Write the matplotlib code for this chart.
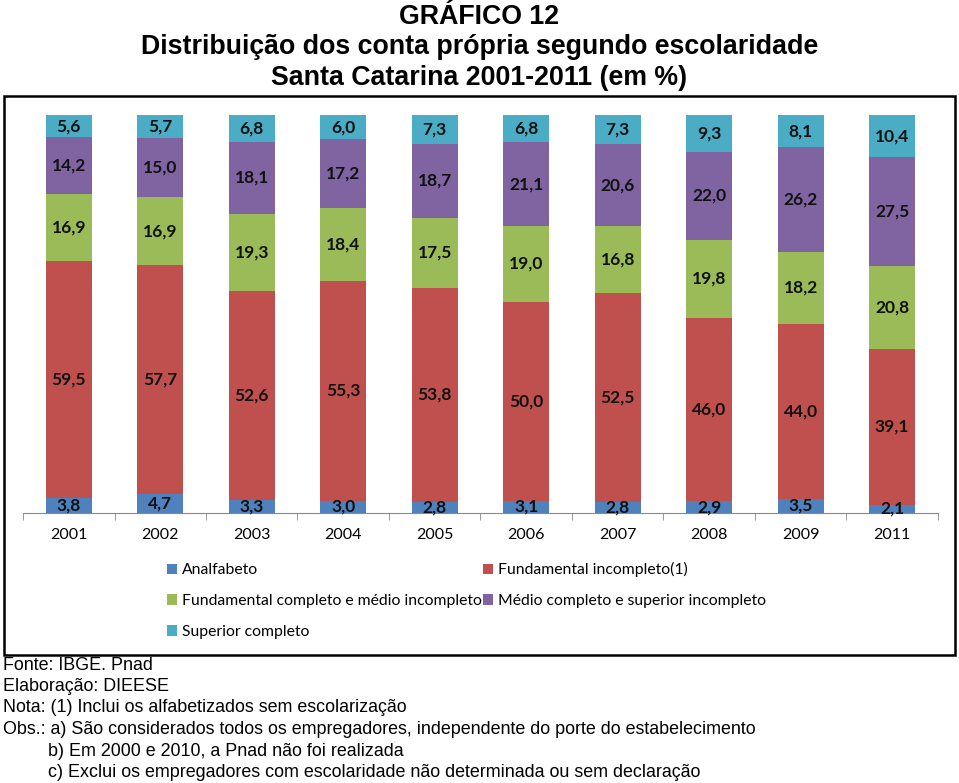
import matplotlib.pyplot as plt
import numpy as np
from matplotlib.patches import Rectangle

anos = ['2001', '2002', '2003', '2004', '2005', '2006', '2007', '2008', '2009', '2011']
analfabeto = [3.8, 4.7, 3.3, 3.0, 2.8, 3.1, 2.8, 2.9, 3.5, 2.1]
fund_incompleto = [59.5, 57.7, 52.6, 55.3, 53.8, 50.0, 52.5, 46.0, 44.0, 39.1]
fund_completo = [16.9, 16.9, 19.3, 18.4, 17.5, 19.0, 16.8, 19.8, 18.2, 20.8]
medio_completo = [14.2, 15.0, 18.1, 17.2, 18.7, 21.1, 20.6, 22.0, 26.2, 27.5]
superior = [5.6, 5.7, 6.8, 6.0, 7.3, 6.8, 7.3, 9.3, 8.1, 10.4]

series = [analfabeto, fund_incompleto, fund_completo, medio_completo, superior]
nomes = ['Analfabeto', 'Fundamental incompleto(1)',
         'Fundamental completo e médio incompleto',
         'Médio completo e superior incompleto', 'Superior completo']
cores = ['#4F81BD', '#C0504D', '#9BBB59', '#8064A2', '#4BACC6']

fig = plt.figure(figsize=(9.59, 7.83), dpi=100)
ax = fig.add_axes([0.024, 0.345, 0.954, 0.508])

x = np.arange(len(anos))
base = np.zeros(len(anos))
barras = []
for vals, cor, nome in zip(series, cores, nomes):
    vals = np.array(vals)
    b = ax.bar(x, vals, 0.5, bottom=base, color=cor, label=nome)
    barras.append(b)
    for xi, v, b0 in zip(x, vals, base):
        ax.text(xi, b0 + v / 2, f'{v:.1f}'.replace('.', ','), ha='center', va='center',
                fontsize=12.5, fontweight='bold', family='Lato', color='#111111')
    base = base + vals

ax.set_xlim(-0.5, len(anos) - 0.5)
ax.set_ylim(0, 100)
ax.set_yticks([])
for s in ['top', 'right', 'left']:
    ax.spines[s].set_visible(False)
ax.spines['bottom'].set_color('#888888')
ax.set_xticks(x)
ax.set_xticklabels(anos, family='Lato', fontsize=11.5)
ax.tick_params(axis='x', which='major', length=0, pad=11)
ax.set_xticks(np.arange(-0.5, len(anos)), minor=True)
ax.tick_params(axis='x', which='minor', length=5, color='#888888')

h = [barras[0], barras[2], barras[4], barras[1], barras[3]]
l = [nomes[0], nomes[2], nomes[4], nomes[1], nomes[3]]
fig.legend(h, l, ncol=2, loc='upper left', bbox_to_anchor=(0.159, 0.3),
           frameon=False, prop={'family': 'Lato', 'size': 11.3},
           handlelength=0.65, handleheight=0.65, handletextpad=0.3,
           columnspacing=0.1, labelspacing=1.07)

fig.patches.append(Rectangle((0.004, 1 - 655 / 783), 0.992, (655 - 96) / 783,
                             transform=fig.transFigure, fill=False,
                             edgecolor='black', linewidth=1.8))

for yy, t in [(17, 'GRÁFICO 12'),
              (47, 'Distribuição dos conta própria segundo escolaridade'),
              (78, 'Santa Catarina 2001-2011 (em %)')]:
    fig.text(0.5, 1 - yy / 783, t, ha='center', va='center',
             fontsize=19.3, fontweight='bold', family='Liberation Sans')

notas = ['Fonte: IBGE. Pnad',
         'Elaboração: DIEESE',
         'Nota: (1) Inclui os alfabetizados sem escolarização',
         'Obs.: a) São considerados todos os empregadores, independente do porte do estabelecimento',
         '         b) Em 2000 e 2010, a Pnad não foi realizada',
         '         c) Exclui os empregadores com escolaridade não determinada ou sem declaração']
for i, t in enumerate(notas):
    fig.text(0.003, 1 - (665 + i * 21.5) / 783, t, ha='left', va='center',
             fontsize=12.9, family='Liberation Sans')

fig.savefig('out.png', dpi=100)
